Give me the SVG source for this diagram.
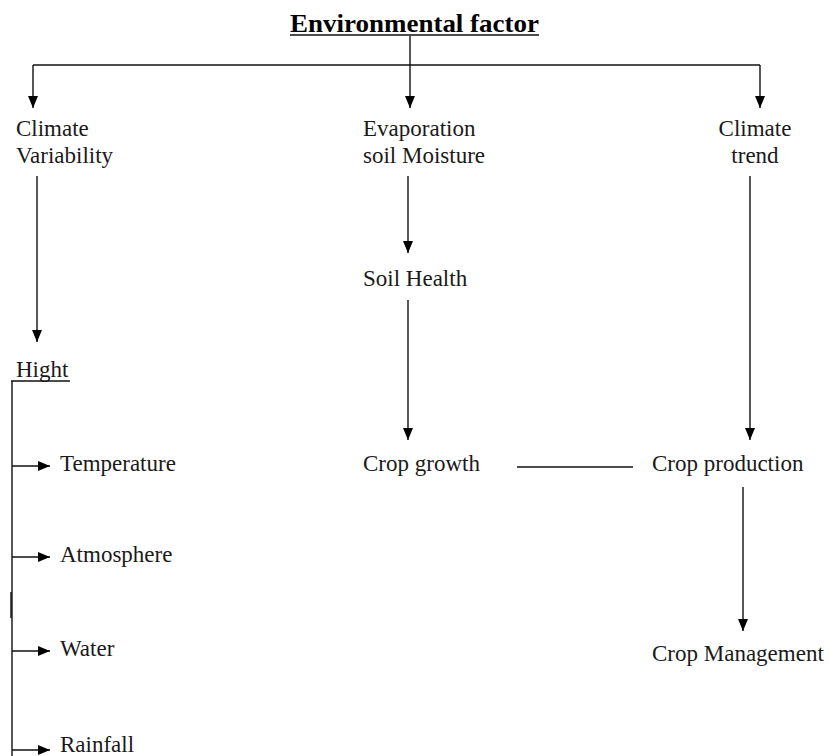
<svg xmlns="http://www.w3.org/2000/svg" width="830" height="756" viewBox="0 0 830 756">
<defs>
<marker id="arr" markerUnits="userSpaceOnUse" markerWidth="12" markerHeight="12" viewBox="0 0 12 12" refX="12" refY="6" orient="auto">
<path d="M0,1 L12,6 L0,11 Z" fill="#000"/>
</marker>
</defs>
<style>
text{font-family:"Liberation Serif","Times New Roman",serif;font-size:23px;fill:#1a1a1a}
.title{font-weight:bold;font-size:26px;fill:#000}
line{stroke:#111;stroke-width:1.4;fill:none}
.a{marker-end:url(#arr)}
</style>
<rect width="830" height="756" fill="#fff"/>
<g id="connectors">
<line x1="290" y1="35" x2="539" y2="35"/>
<line x1="410" y1="36" x2="410" y2="65"/>
<line x1="33" y1="65" x2="760" y2="65"/>
<line class="a" x1="33" y1="65" x2="33" y2="108"/>
<line class="a" x1="410" y1="65" x2="410" y2="108"/>
<line class="a" x1="760" y1="65" x2="760" y2="108"/>
<line class="a" x1="37" y1="176" x2="37" y2="342"/>
<line x1="11" y1="381" x2="70" y2="381"/>
<line x1="12" y1="381" x2="12" y2="756"/>
<line x1="11" y1="592" x2="11" y2="618"/>
<line class="a" x1="12" y1="466" x2="50" y2="466"/>
<line class="a" x1="12" y1="557" x2="50" y2="557"/>
<line class="a" x1="12" y1="651" x2="50" y2="651"/>
<line class="a" x1="12" y1="750" x2="50" y2="750"/>
<line class="a" x1="408" y1="176" x2="408" y2="253"/>
<line class="a" x1="408" y1="300" x2="408" y2="440"/>
<line x1="517" y1="467" x2="633" y2="467"/>
<line class="a" x1="750" y1="176" x2="750" y2="440"/>
<line class="a" x1="743" y1="487" x2="743" y2="631"/>
</g>
<g id="n-env"><text class="title" x="414.5" y="32" text-anchor="middle" textLength="249" lengthAdjust="spacingAndGlyphs">Environmental factor</text></g>
<g id="n-climvar"><text x="16" y="136">Climate</text><text x="16" y="163">Variability</text></g>
<g id="n-evap"><text x="363" y="136">Evaporation</text><text x="363" y="163">soil Moisture</text></g>
<g id="n-climtrend"><text x="755" y="136" text-anchor="middle">Climate</text><text x="755" y="163" text-anchor="middle">trend</text></g>
<g id="n-hight"><text x="16" y="377">Hight</text></g>
<g id="n-temp"><text x="60" y="471">Temperature</text></g>
<g id="n-atmo"><text x="60" y="562">Atmosphere</text></g>
<g id="n-water"><text x="60" y="656">Water</text></g>
<g id="n-rain"><text x="60" y="752">Rainfall</text></g>
<g id="n-soil"><text x="363" y="286">Soil Health</text></g>
<g id="n-growth"><text x="363" y="471">Crop growth</text></g>
<g id="n-prod"><text x="652" y="471">Crop production</text></g>
<g id="n-mgmt"><text x="652" y="661">Crop Management</text></g>
</svg>
